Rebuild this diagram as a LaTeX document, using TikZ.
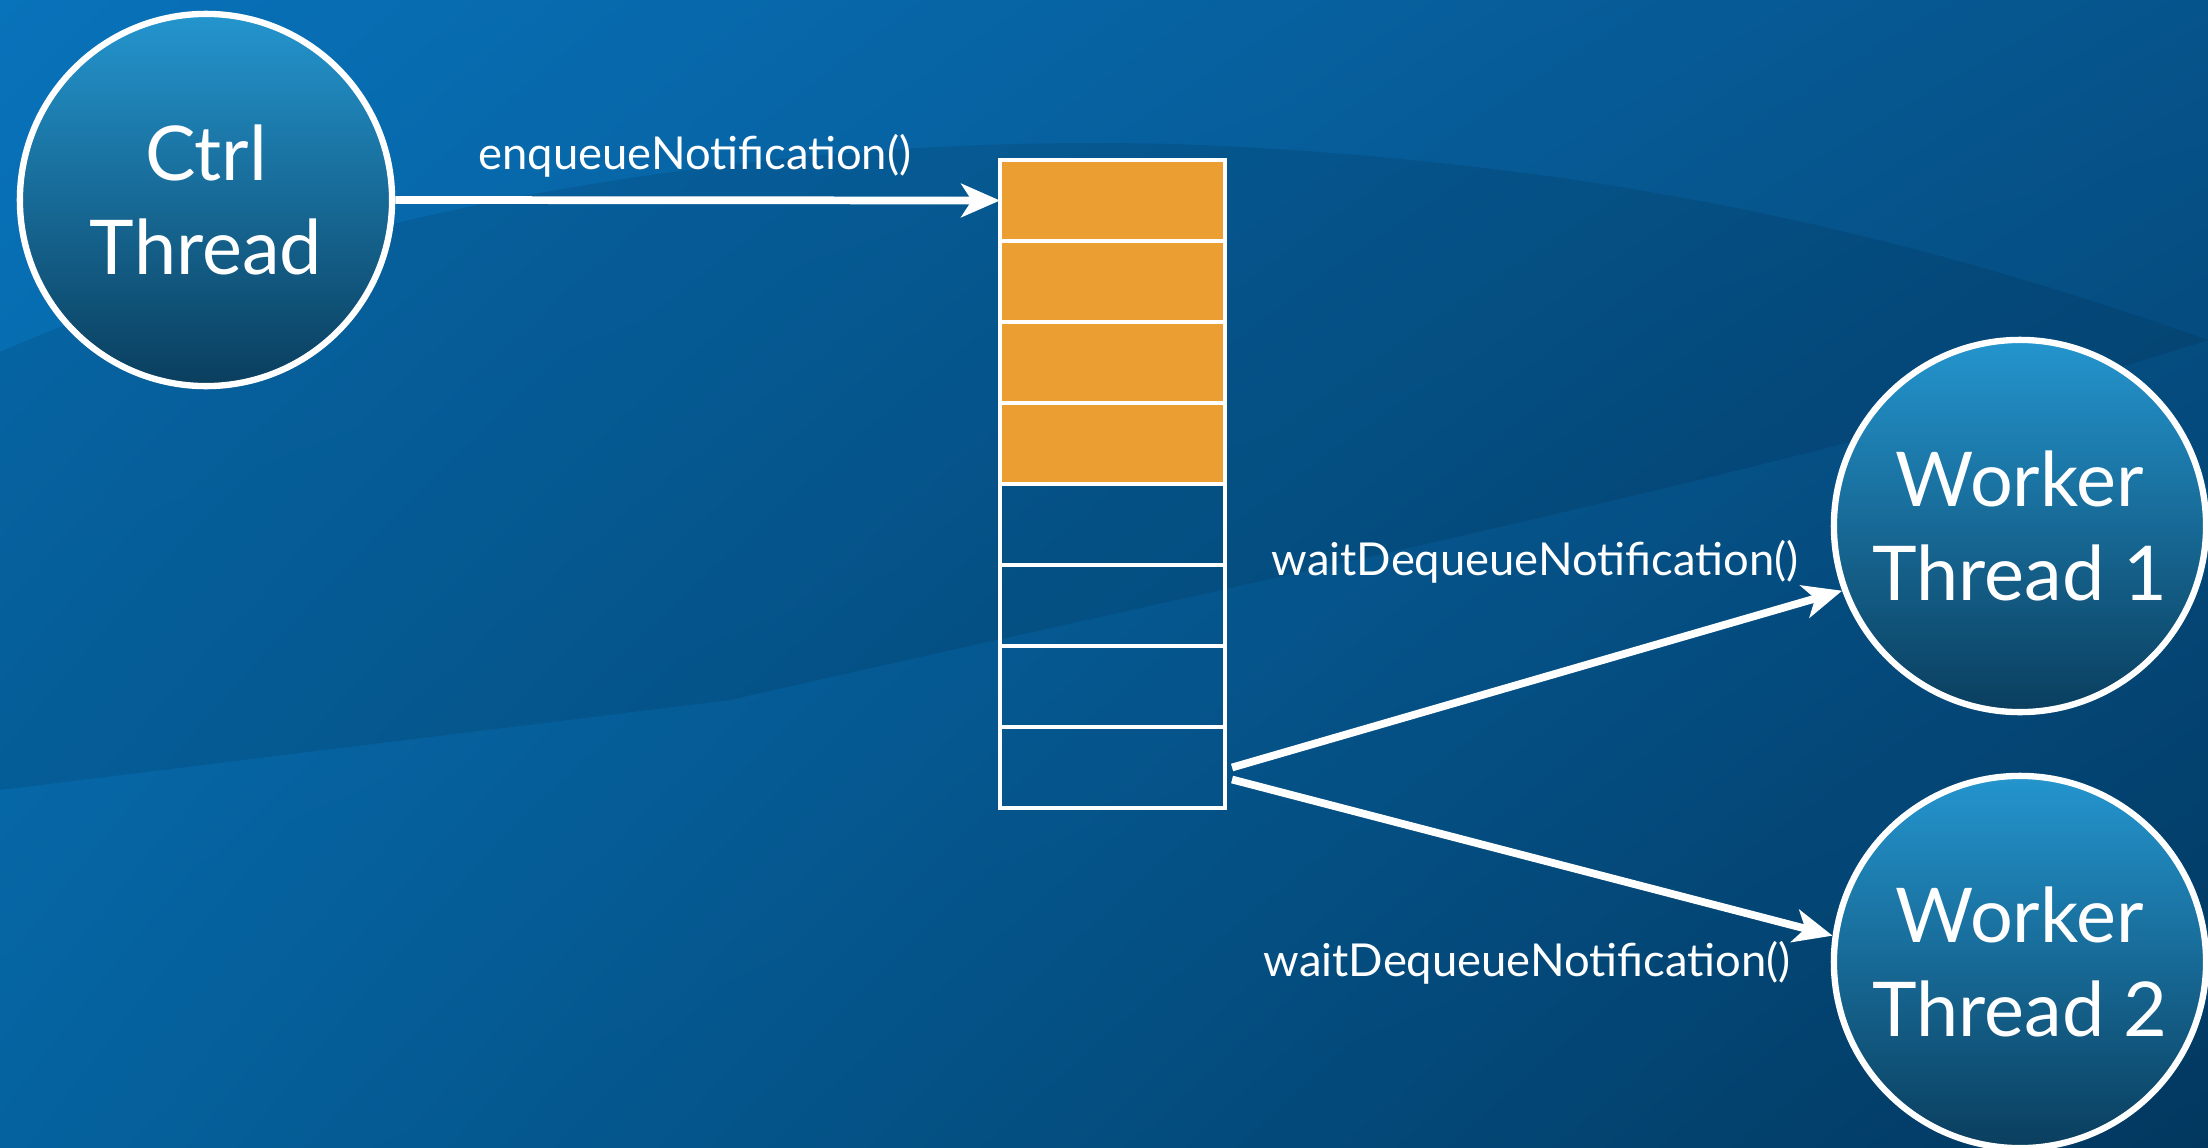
\documentclass[tikz,border=0pt]{standalone}
\usepackage{fontspec}
\setmainfont{Lato}
\usetikzlibrary{arrows.meta,shadings}

\definecolor{bgTL}{RGB}{8,114,186}
\definecolor{bgTR}{RGB}{6,84,140}
\definecolor{bgBL}{RGB}{5,98,158}
\definecolor{bgBR}{RGB}{2,56,96}
\definecolor{discTop}{RGB}{36,149,206}
\definecolor{discBot}{RGB}{10,62,94}
\definecolor{qOrange}{RGB}{235,158,49}

\tikzset{
  thread/.style={circle, draw=white, line width=1.8pt, minimum size=3.72cm,
    inner sep=0pt, top color=discTop, bottom color=discBot, text=white,
    align=center, font=\fontsize{21.5}{26.5}\selectfont},
  cell/.style={draw=white, line width=1.2pt, minimum width=2.25cm,
    minimum height=0.81cm, inner sep=0pt, outer sep=0pt},
  full/.style={cell, fill=qOrange},
  call/.style={text=white, inner sep=0pt, font=\fontsize{12.9}{15}\selectfont},
  flow/.style={draw=white, line width=2.2pt,
    -{Stealth[length=11pt,width=9.5pt,inset=3pt]}},
}

\begin{document}
\begin{tikzpicture}[x=0.01cm, y=-0.01cm]
\useasboundingbox (0,0) rectangle (2208,1148);

% background with the darker swoosh across the middle
\shade[upper left=bgTL, upper right=bgTR, lower left=bgBL, lower right=bgBR]
  (0,0) rectangle (2208,1148);
\fill[black, opacity=0.09] (0,352) .. controls (350,200) and (800,130) .. (1200,145)
  .. controls (1650,165) and (1950,250) .. (2208,340)
  .. controls (1800,470) and (1300,570) .. (730,700)
  -- (0,790) -- cycle;

% threads
\node[thread] (ctrl) at (206,200) {Ctrl\\Thread};
\node[thread] (w1) at (2020,526) {Worker\\Thread 1};
\node[thread] (w2) at (2020,962) {Worker\\Thread 2};

% notification queue
\node[full] (q1) at (1112.5,200.5) {};
\node[full] (q2) at (1112.5,281.5) {};
\node[full] (q3) at (1112.5,362.5) {};
\node[full] (q4) at (1112.5,443.5) {};
\node[cell] (q5) at (1112.5,524.5) {};
\node[cell] (q6) at (1112.5,605.5) {};
\node[cell] (q7) at (1112.5,686.5) {};
\node[cell] (q8) at (1112.5,767.5) {};

\coordinate (fork1) at ([xshift=0.07cm]q8.east);
\coordinate (fork2) at ([xshift=0.07cm,yshift=-0.12cm]q8.east);

% calls
\draw[flow] (ctrl.east) -- (q1.west);
\draw[flow] (fork1) -- (w1.200);
\draw[flow] (fork2) -- (w2.172);

\node[call] (enq) at (695,156) {enqueueNotification()};
\node[call] (deq1) at (1535,562) {waitDequeueNotification()};
\node[call] (deq2) at (1527,963) {waitDequeueNotification()};
\end{tikzpicture}
\end{document}
